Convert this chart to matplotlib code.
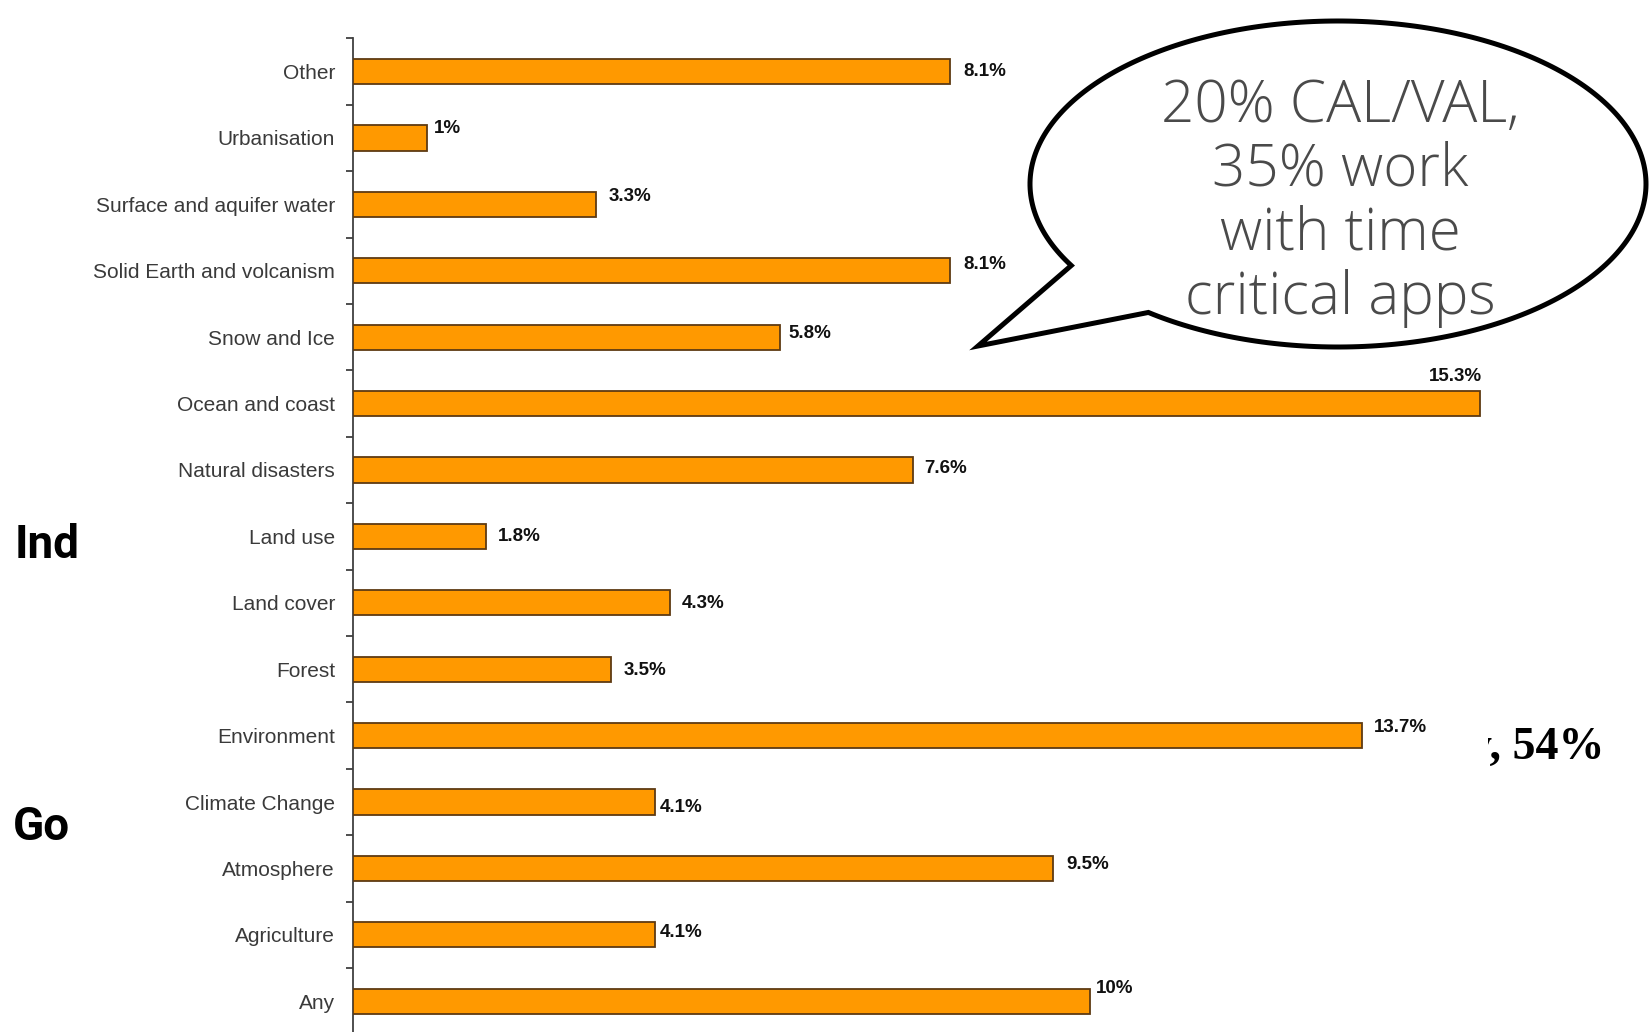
import matplotlib
matplotlib.use("Agg")
import matplotlib.pyplot as plt
import numpy as np
from matplotlib import font_manager
from matplotlib.patches import Polygon
from matplotlib.transforms import Bbox

# ---------------- data ----------------
categories = ["Other", "Urbanisation", "Surface and aquifer water",
              "Solid Earth and volcanism", "Snow and Ice", "Ocean and coast",
              "Natural disasters", "Land use", "Land cover", "Forest",
              "Environment", "Climate Change", "Atmosphere", "Agriculture", "Any"]
values = [8.1, 1.0, 3.3, 8.1, 5.8, 15.3, 7.6, 1.8, 4.3, 3.5, 13.7, 4.1, 9.5, 4.1, 10.0]
value_labels = ["8.1%", "1%", "3.3%", "8.1%", "5.8%", "15.3%", "7.6%", "1.8%",
                "4.3%", "3.5%", "13.7%", "4.1%", "9.5%", "4.1%", "10%"]
callout_lines = ["20% CAL/VAL,", "35% work", "with time", "critical apps"]
side_texts = ["Ind", "Go"]
share_text = "y, 54%"

# label placement tweaks (pixels): horizontal gap and vertical shift (up positive)
label_dx = [14, 7, 13, 14, 8, 0, 11, 12, 12, 13, 12, 5, 14, 5, 6]
label_dy = [0, 9, 8, 6, 4, 0, 1, 0, -1, -1, 8, -5, 4, 2, 13]

W, H = 1652, 1032
fig = plt.figure(figsize=(W / 100, H / 100), dpi=100)
fig.patch.set_facecolor("white")

installed = {f.name for f in font_manager.fontManager.ttflist}
narrow = "Liberation Sans Narrow" in installed
tick_family = ["Liberation Sans Narrow", "Liberation Sans", "DejaVu Sans"] if narrow else ["Liberation Sans", "DejaVu Sans"]
tick_size = 18 if narrow else 15

px_per_unit = 73.66
xmax = 17.0
ax_left = 353
ax_top = 38.4
ax_bot = 1034.4
ax = fig.add_axes([ax_left / W, (H - ax_bot) / H, xmax * px_per_unit / W, (ax_bot - ax_top) / H])
ax.set_facecolor("none")

n = len(categories)
ypos = np.arange(n)[::-1]  # first category at top
ax.barh(ypos, values, height=0.38, left=0, color="#ff9900",
        edgecolor="#5e3a12", linewidth=1.3, zorder=3)

ax.set_xlim(0, xmax)
ax.set_ylim(-0.5, n - 0.5)

for s in ["top", "right", "bottom"]:
    ax.spines[s].set_visible(False)
ax.spines["left"].set_color("#404040")
ax.spines["left"].set_linewidth(1.3)
ax.set_xticks([])

ax.set_yticks(np.arange(-0.5, n, 1.0))
ax.set_yticklabels([])
ax.tick_params(axis="y", which="major", length=5, width=1.3, color="#404040", direction="out")
ax.set_yticks(ypos, minor=True)
ax.set_yticklabels(categories, minor=True)
ax.tick_params(axis="y", which="minor", length=0, pad=13, labelsize=tick_size, labelcolor="#3a3a3a")
for lbl in ax.get_yticklabels(minor=True):
    lbl.set_family(tick_family)

pt = 72 / 100.0  # points per pixel
imax = int(np.argmax(values))
for i, (v, lab) in enumerate(zip(values, value_labels)):
    if i == imax:
        ax.annotate(lab, (v, ypos[i]), xytext=(2 * pt, 19 * pt), textcoords="offset points",
                    ha="right", va="bottom", fontsize=13.5, fontweight="bold",
                    family=["Liberation Sans", "DejaVu Sans"], color="#111111")
    else:
        ax.annotate(lab, (v, ypos[i]), xytext=(label_dx[i] * pt, label_dy[i] * pt),
                    textcoords="offset points", ha="left", va="center",
                    fontsize=13.5, fontweight="bold",
                    family=["Liberation Sans", "DejaVu Sans"], color="#111111")

# ---------------- callout bubble ----------------
def fx(x):
    return x / W

def fy(y):
    return (H - y) / H

cx, cy, a, b = 1338, 184, 308, 163
t0 = np.deg2rad(150)
t1 = np.deg2rad(128 + 360)
ts = np.linspace(t0, t1, 300)
pts = [(fx(cx + a * np.cos(t)), fy(cy + b * np.sin(t))) for t in ts]
pts.append((fx(978), fy(346)))
bubble = Polygon(pts, closed=True, transform=fig.transFigure, facecolor="white",
                 edgecolor="black", linewidth=3.6, joinstyle="miter", zorder=5)
fig.add_artist(bubble)

line_y = [106, 170, 234, 298]
for txt, yy in zip(callout_lines, line_y):
    fig.text(fx(1340), fy(yy), txt, ha="center", va="center", fontsize=42,
             family=["Open Sans", "DejaVu Sans"], fontweight="light",
             color="#4a4a4a", zorder=6)

# ---------------- background slide text ----------------
fig.text(fx(15), fy(545), side_texts[0], ha="left", va="center", fontsize=33,
         fontweight="bold", family=["Roboto", "DejaVu Sans"], color="black")
fig.text(fx(13), fy(827), side_texts[1], ha="left", va="center", fontsize=33,
         fontweight="bold", family=["Roboto", "DejaVu Sans"], color="black")
st = fig.text(fx(1604), fy(748), share_text, ha="right", va="center", fontsize=33,
              fontweight="bold", family=["Liberation Serif", "DejaVu Serif"], color="black")
st.set_clip_box(Bbox.from_extents(1488, 0, W, H))
st.set_clip_on(True)

fig.savefig("out.png", dpi=100, facecolor="white")
